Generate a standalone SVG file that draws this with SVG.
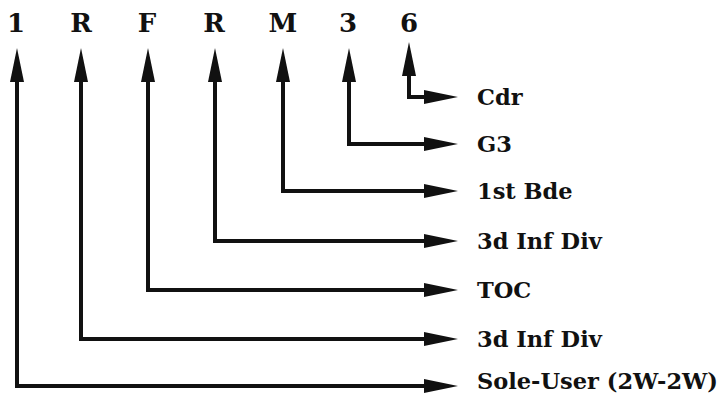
<svg xmlns="http://www.w3.org/2000/svg" width="720" height="394" viewBox="0 0 720 394">
<style>
.hdr{font-family:"DejaVu Serif","Liberation Serif",serif;font-weight:bold;font-size:26px;fill:#111;text-anchor:middle}
.lbl{font-family:"DejaVu Serif","Liberation Serif",serif;font-weight:bold;font-size:22.5px;fill:#111}
.c{fill:none;stroke:#111;stroke-width:4;stroke-linejoin:miter;marker-start:url(#ah);marker-end:url(#ah)}
</style>
<defs>
<marker id="ah" markerUnits="userSpaceOnUse" markerWidth="40" markerHeight="20" refX="0" refY="0" viewBox="0 -10 40 20" orient="auto-start-reverse" overflow="visible">
<path d="M0,-7 L34,0 L0,7 Z" fill="#111"/>
</marker>
</defs>
<rect width="720" height="394" fill="#fff"/>
<g id="connectors">
<path class="c" d="M17,82 V386 H424"/>
<path class="c" d="M81,82 V339 H424"/>
<path class="c" d="M148,82 V290 H424"/>
<path class="c" d="M215,82 V241 H424"/>
<path class="c" d="M283,82 V191 H424"/>
<path class="c" d="M349,82 V144 H424"/>
<path class="c" d="M409,76 V97 H424"/>
</g>
<g id="code">
<text class="hdr" x="16" y="32">1</text>
<text class="hdr" x="81" y="32">R</text>
<text class="hdr" x="147" y="32">F</text>
<text class="hdr" x="214" y="32">R</text>
<text class="hdr" x="283" y="32">M</text>
<text class="hdr" x="348" y="32">3</text>
<text class="hdr" x="409" y="32">6</text>
</g>
<g id="n-cdr"><text class="lbl" x="477" y="105">Cdr</text></g>
<g id="n-g3"><text class="lbl" x="477" y="152">G3</text></g>
<g id="n-1stbde"><text class="lbl" x="477" y="199">1st Bde</text></g>
<g id="n-3dinfdiv1"><text class="lbl" x="477" y="249">3d Inf Div</text></g>
<g id="n-toc"><text class="lbl" x="477" y="298">TOC</text></g>
<g id="n-3dinfdiv2"><text class="lbl" x="477" y="347">3d Inf Div</text></g>
<g id="n-soleuser"><text class="lbl" x="477" y="389">Sole-User (2W-2W)</text></g>
</svg>
